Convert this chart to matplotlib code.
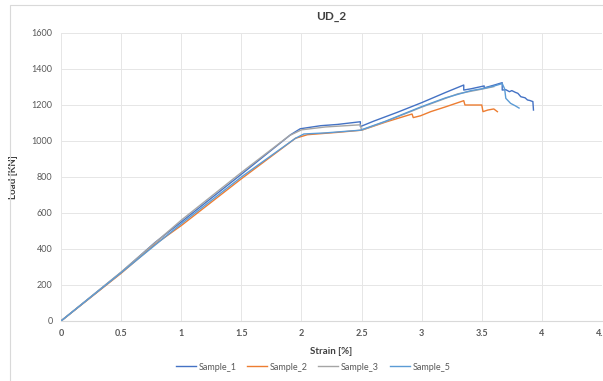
import matplotlib
matplotlib.use("Agg")
import matplotlib.pyplot as plt
from matplotlib.patches import Rectangle

plt.rcParams['font.family'] = ['Lato', 'DejaVu Sans']

s1_x = [0, 0.5, 0.78, 1.0, 1.5, 1.91, 1.99, 2.16, 2.3, 2.49, 2.49, 2.6, 2.8, 3.0, 3.2, 3.35, 3.35, 3.41, 3.52, 3.52,
        3.6, 3.67, 3.67, 3.70, 3.73, 3.75, 3.78, 3.8, 3.825, 3.86, 3.88, 3.9, 3.925, 3.93]
s1_y = [0, 270, 435, 550, 815, 1035, 1068, 1085, 1092, 1107, 1080, 1110, 1160, 1213, 1270, 1311, 1283, 1290, 1306, 1295,
        1310, 1324, 1283, 1285, 1274, 1280, 1270, 1265, 1246, 1240, 1228, 1225, 1219, 1172]

s2_x = [0, 0.5, 0.78, 1.0, 1.5, 1.95, 2.05, 2.3, 2.5, 2.7, 2.92, 2.93, 2.99, 3.075, 3.2, 3.35, 3.36, 3.5, 3.51,
        3.55, 3.6, 3.63]
s2_y = [0, 265, 425, 530, 790, 1015, 1035, 1048, 1060, 1105, 1150, 1130, 1140, 1163, 1190, 1224, 1200, 1200, 1163,
        1172, 1178, 1163]

s3_x = [0, 0.5, 1.0, 1.5, 1.9, 2.0, 2.2, 2.49, 2.5, 2.7, 3.0, 3.3, 3.5, 3.6]
s3_y = [0, 272, 560, 825, 1030, 1062, 1078, 1090, 1060, 1108, 1188, 1262, 1288, 1302]

s5_x = [0, 0.5, 1.0, 1.5, 1.95, 2.02, 2.2, 2.49, 2.7, 3.0, 3.2, 3.41, 3.5, 3.6, 3.67, 3.69, 3.70, 3.74, 3.78, 3.81]
s5_y = [0, 268, 540, 800, 1015, 1039, 1045, 1060, 1110, 1191, 1240, 1280, 1290, 1305, 1319, 1290, 1237, 1209, 1195, 1183]

series = [("Sample_1", s1_x, s1_y, "#4472C4"),
          ("Sample_2", s2_x, s2_y, "#ED7D31"),
          ("Sample_3", s3_x, s3_y, "#A5A5A5"),
          ("Sample_5", s5_x, s5_y, "#5B9BD5")]

x_ticks = [0, 0.5, 1, 1.5, 2, 2.5, 3, 3.5, 4, 4.5]
x_labels = ["0", "0.5", "1", "1.5", "2", "2.5", "3", "3.5", "4", "4.5"]
y_ticks = [0, 200, 400, 600, 800, 1000, 1200, 1400, 1600]

W, H = 603, 381
fig = plt.figure(figsize=(W / 100, H / 100), dpi=100)
fig.patch.set_facecolor("white")
fig.patches.append(Rectangle((10 / W, -0.1), 1.2, 1 - 5 / H + 0.1, transform=fig.transFigure,
                             fill=False, edgecolor="#D9D9D9", lw=0.8))

ax = fig.add_axes([61 / W, 1 - 321 / H, (602 - 61) / W, (321 - 33) / H])
for name, xs, ys, c in series:
    ax.plot(xs, ys, color=c, lw=1.0, label=name)

ax.set_xlim(0, 4.5)
ax.set_ylim(0, 1600)
ax.set_xticks(x_ticks)
ax.set_xticklabels(x_labels)
ax.set_yticks(y_ticks)
ax.grid(True, color="#E6E6E6", lw=0.7)
ax.set_axisbelow(True)
for sp in ["top", "right", "left"]:
    ax.spines[sp].set_visible(False)
ax.spines["bottom"].set_color("#D9D9D9")
ax.tick_params(length=0, labelsize=6.5, colors="#595959", pad=6)
for lab in ax.get_xticklabels():
    lab.set_fontweight("bold")
ax.set_xlabel("Strain [%]", fontsize=7, fontweight="bold", color="#404040", labelpad=6)
ax.set_ylabel("Load [KN]", fontsize=7, fontweight="bold", color="#404040", labelpad=10)
fig.text(331 / W, 1 - 17 / H, "UD_2", ha="center", va="center", fontsize=8.5, fontweight="bold", color="#404040")

fig.legend(loc="center", bbox_to_anchor=(313 / W, 1 - 367 / H), ncol=4, frameon=False, fontsize=6.5,
           handlelength=2.2, columnspacing=1.2, handletextpad=0.3, labelcolor="#595959")

fig.savefig("out.png", dpi=100)
